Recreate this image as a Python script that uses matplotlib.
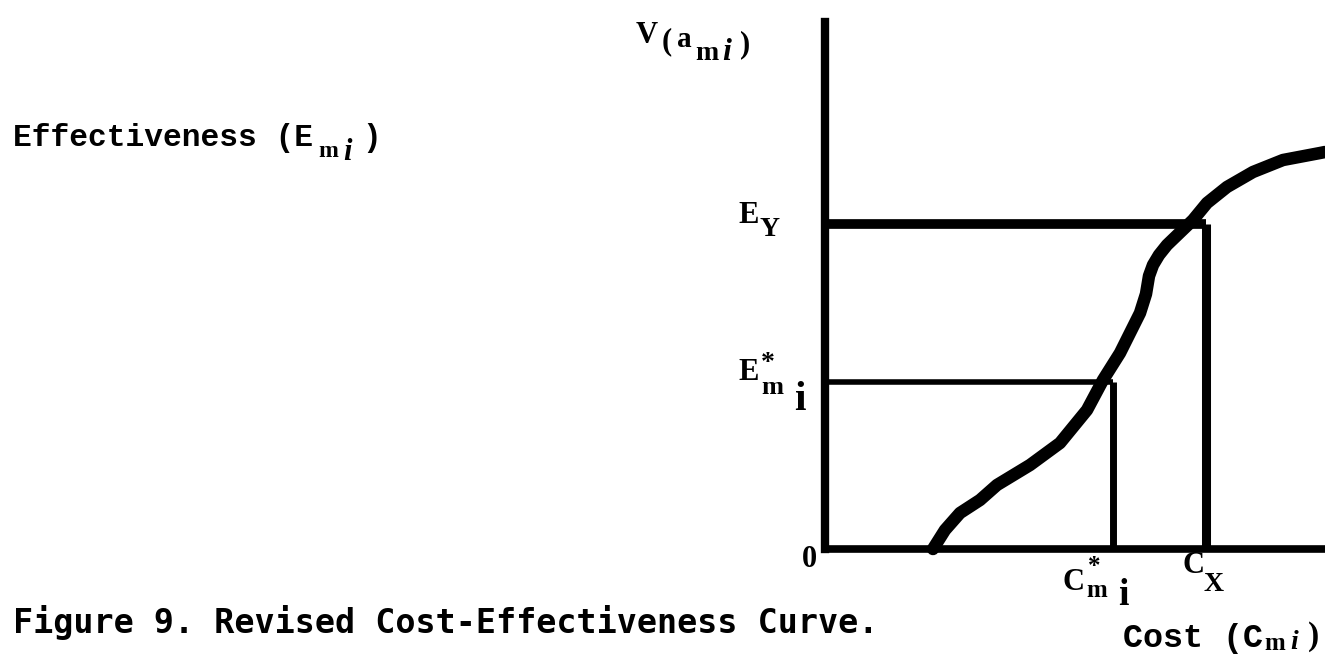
import matplotlib.pyplot as plt

# cost-effectiveness curve (x: cost, y: effectiveness)
cost = [21.6, 24.0, 27.0, 31.0, 34.4, 41.0, 47.0, 52.4, 55.6, 59.0, 63.0,
        64.2, 64.8, 65.6, 66.8, 68.4, 73.6, 76.4, 80.4, 85.6, 91.6, 99.0, 100.0]
effect = [0.0, 3.8, 7.2, 9.8, 12.8, 16.8, 21.2, 27.8, 33.8, 39.2, 47.2,
          51.0, 54.6, 56.8, 58.8, 60.8, 65.8, 69.2, 72.4, 75.4, 77.8, 79.2, 79.4]

# marked points
c_star, e_star = 57.6, 33.4
c_x, e_y = 76.2, 65.0

W, H = 1325, 656
fig = plt.figure(figsize=(W / 100, H / 100), dpi=100)
ax = fig.add_axes([825 / W, 1 - 549 / H, 500 / W, 527 / H])
ax.set_xlim(0, 100)
ax.set_ylim(0, 105.4)
for s in ['top', 'right']:
    ax.spines[s].set_visible(False)
ax.spines['left'].set_linewidth(6)
ax.spines['bottom'].set_linewidth(5.5)
ax.set_xticks([])
ax.set_yticks([])
ax.patch.set_alpha(0)

# guide lines
ax.plot([0, c_x], [e_y, e_y], color='black', lw=7, solid_capstyle='butt')
ax.plot([c_x, c_x], [0, e_y], color='black', lw=6.5, solid_capstyle='butt')
ax.plot([0, c_star], [e_star, e_star], color='black', lw=4, solid_capstyle='butt')
ax.plot([c_star, c_star], [0, e_star], color='black', lw=5, solid_capstyle='butt')

# the curve
ax.plot(cost, effect, color='black', lw=9, solid_capstyle='round',
        solid_joinstyle='round', clip_on=False, zorder=3)


def put(s, x, y, size, family='Liberation Serif', weight='bold', va='baseline', **kw):
    fig.text(x / W, 1 - y / H, s, fontsize=size, family=family, weight=weight,
             va=va, ha='left', **kw)


mono = 'Liberation Mono'

# left label
put('Effectiveness (E', 13, 146, 22.5, family=mono)
put('m', 318, 157, 17)
put('i', 343, 160, 22, style='italic')
put(')', 362, 146, 22.5, family=mono)

# y axis title
put('V', 636, 43, 22)
put('(', 662, 49, 22)
put('a', 677, 47, 21)
put('m', 695, 60, 20)
put('i', 722, 60, 23, style='italic')
put(')', 740, 52, 22)

# y tick labels
put('E', 738, 223, 22)
put('Y', 760, 236, 20)
put('E', 738, 380, 22)
put('*', 761, 351, 20, va='top')
put('m', 761, 394, 19)
put('i', 794, 410, 30)
put('0', 802, 567, 22)

# x tick labels
put('C', 1063, 590, 22)
put('*', 1088, 573, 18)
put('m', 1086, 597, 18)
put('i', 1118, 605, 27)
put('C', 1183, 573, 22)
put('X', 1204, 591, 20)

# x axis title
put('Cost (C', 1123, 647, 24, family=mono)
put('m', 1264, 650, 18)
put('i', 1290, 649, 20, style='italic')
put(')', 1308, 645, 24)

# caption
put('Figure 9. Revised Cost-Effectiveness Curve.', 13, 633, 24,
    family='DejaVu Sans Mono')

fig.savefig('out.png', dpi=100)
